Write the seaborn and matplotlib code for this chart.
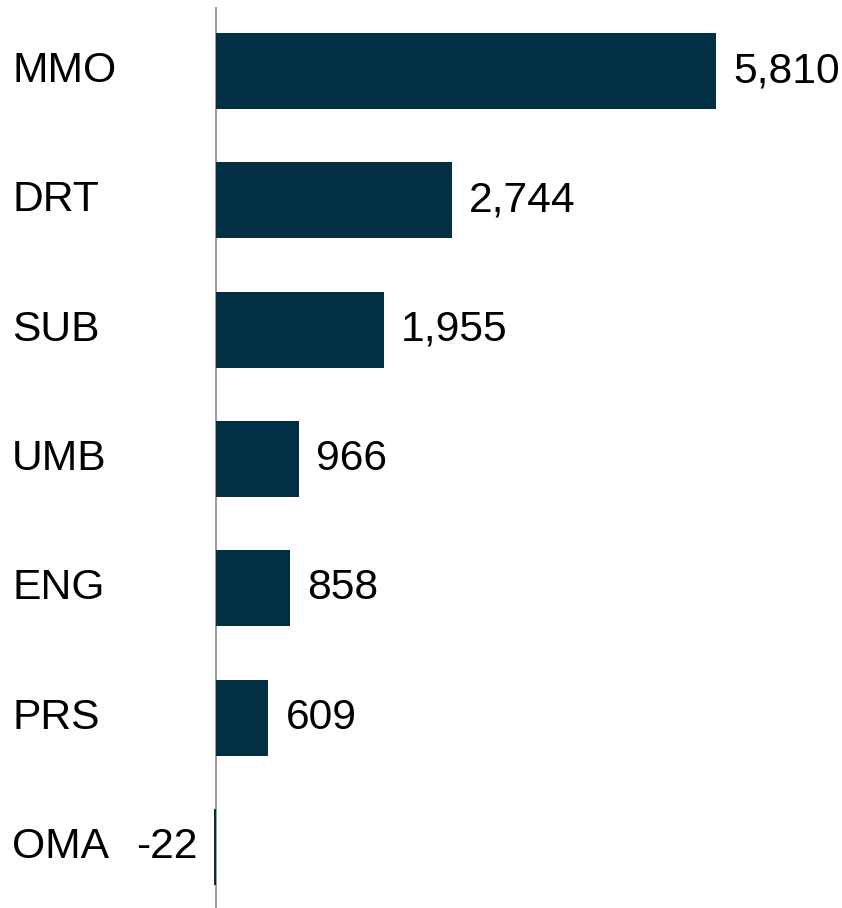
import matplotlib
matplotlib.use("Agg")
import matplotlib.pyplot as plt
import pandas as pd
import seaborn as sns

categories = ['MMO', 'DRT', 'SUB', 'UMB', 'ENG', 'PRS', 'OMA']
values = [5810, 2744, 1955, 966, 858, 609, -22]

df = pd.DataFrame({'cat': categories, 'val': values})

sns.set_style('white')
plt.rcParams['font.family'] = ['Liberation Sans', 'DejaVu Sans']

W, H = 842, 908
fig = plt.figure(figsize=(W / 100, H / 100), dpi=100)
ax = fig.add_axes([0, 0, 1, 1])

bar_color = '#032F45'
sns.barplot(data=df, x='val', y='cat', orient='h', color=bar_color,
            width=0.59, ax=ax, saturation=1, linewidth=0, zorder=6)

# pixel scale: zero at x=216, 5810 -> 716
scale = 500 / 5810
ax.set_xlim(-216 / scale, (W - 216) / scale)
step = 129.3
ax.set_ylim(6 + (H - 847) / step, -71 / step)

ax.vlines(0, 6 + (H - 847) / step, -71 / step + 7 / step,
          color='#A0A0A0', lw=1.5, zorder=5)

fs = 30.7
for i, (c, v) in enumerate(zip(categories, values)):
    ax.text(12 / W, i, c, transform=ax.get_yaxis_transform(),
            ha='left', va='center', fontsize=fs, color='black')
    off = 17 / scale
    if v >= 0:
        ax.text(v + off, i, f'{v:,}', ha='left', va='center',
                fontsize=fs, color='black')
    else:
        ax.text(v - off, i, f'{v:,}', ha='right', va='center',
                fontsize=fs, color='black')

ax.set_xlabel('')
ax.set_ylabel('')
ax.set_xticks([])
ax.set_yticks([])
sns.despine(ax=ax, left=True, bottom=True)

fig.savefig('out.png', dpi=100)
